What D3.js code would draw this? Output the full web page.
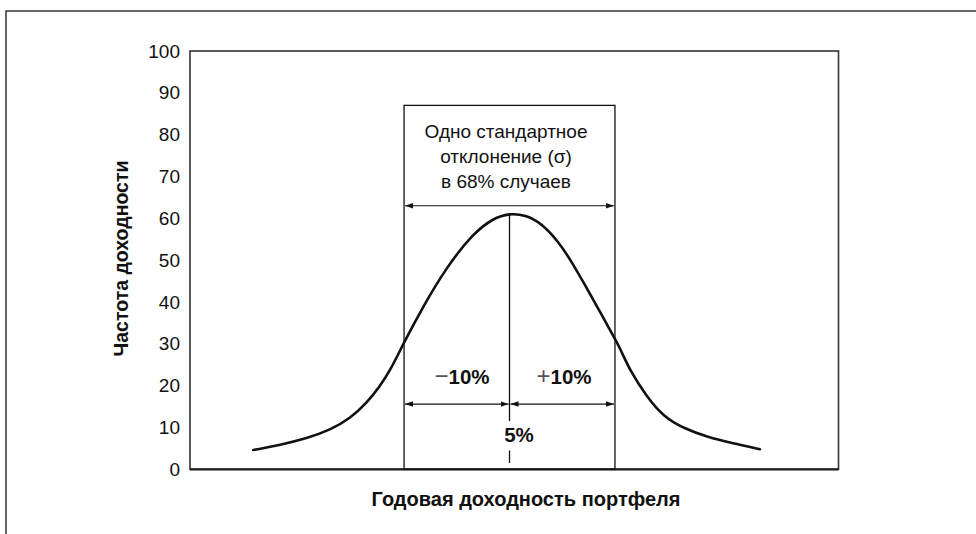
<!DOCTYPE html>
<html><head><meta charset="utf-8">
<script src="https://cdn.jsdelivr.net/npm/d3@7"></script>
<style>
html,body{margin:0;padding:0;background:#fff;}
svg text{font-family:"Liberation Sans",Arial,Helvetica,sans-serif;fill:#111;}
</style></head>
<body>
<script>
// ---- data ----
const yTicks = [0,10,20,30,40,50,60,70,80,90,100];
const curveX = [-19.3,-16.75,-14.2,-12.0,-10.1,-8.55,-7.3,-6.3,-5.05,-3.2,-0.95,1.55,3.45,5.0,6.5,8.05,9.65,10.9,12.15,13.4,14.7,15.5,16.4,18.0,19.6,21.5,23.7,26.2,28.75];
const curveY = [4.6,5.8,7.4,9.4,12.2,15.8,19.8,23.7,30.1,38.9,48.4,56.4,60.0,61.2,60.8,58.8,54.4,49.6,44.1,38.5,32.5,28.9,23.7,17.4,12.6,9.8,7.8,6.2,4.8];
const meanReturn = 5;
const sigma = 10;
const boxTop = 87;
const topArrowLevel = 63;
const bottomArrowLevel = 15.6;
const noteLines = ["Одно стандартное","отклонение (σ)","в 68% случаев"];
const yTitle = "Частота доходности";
const xTitle = "Годовая доходность портфеля";

// ---- layout ----
const W = 976, H = 534;
const svg = d3.select("body").append("svg").attr("width",W).attr("height",H);
const L = 190, R = 838.5, T = 51, B = 469.3;
const x = d3.scaleLinear().domain([-25.3,36.2]).range([L,R]);
const y = d3.scaleLinear().domain([0,100]).range([B,T]);

// outer frame (top & left)
svg.append("path").attr("d",`M6,534 L6,11 L976,11`).attr("fill","none").attr("stroke","#333").attr("stroke-width",1.5);

// plot frame
svg.append("rect").attr("x",L).attr("y",T).attr("width",R-L).attr("height",B-T)
  .attr("fill","none").attr("stroke","#333").attr("stroke-width",1.6);
svg.append("line").attr("x1",L).attr("x2",R).attr("y1",B).attr("y2",B).attr("stroke","#222").attr("stroke-width",2.2);

// y axis labels
const yAxis = d3.axisLeft(y).tickValues(yTicks).tickSize(0).tickPadding(10);
const gy = svg.append("g").attr("transform",`translate(${L},0)`).call(yAxis);
gy.select(".domain").remove();
gy.selectAll("text").attr("font-size",19).attr("fill","#111")
  .attr("font-family",'"Liberation Sans",Arial,sans-serif');

// titles
svg.append("text").attr("transform",`translate(128,258.5) rotate(-90)`).attr("text-anchor","middle")
  .attr("font-size",19.5).attr("font-weight","bold").text(yTitle);
svg.append("text").attr("x",526).attr("y",506).attr("text-anchor","middle")
  .attr("font-size",20).attr("font-weight","bold").text(xTitle);

// sigma box
const bx0 = x(meanReturn - sigma), bx1 = x(meanReturn + sigma), cx = x(meanReturn);
svg.append("rect").attr("x",bx0).attr("y",y(boxTop)).attr("width",bx1-bx0).attr("height",y(0)-y(boxTop))
  .attr("fill","none").attr("stroke","#111").attr("stroke-width",1.3);

// curve
const pts = curveX.map((d,i)=>[d,curveY[i]]);
svg.append("path").datum(pts)
  .attr("d", d3.line().x(d=>x(d[0])).y(d=>y(d[1])).curve(d3.curveBasis))
  .attr("fill","none").attr("stroke","#111").attr("stroke-width",2.6).attr("stroke-linecap","round");

// center line
const peak = d3.max(curveY);
svg.append("line").attr("x1",cx).attr("x2",cx).attr("y1",y(peak)).attr("y2",y(11.5)).attr("stroke","#111").attr("stroke-width",1.3);
svg.append("line").attr("x1",cx).attr("x2",cx).attr("y1",y(4.5)).attr("y2",y(1.5)).attr("stroke","#111").attr("stroke-width",1.3);

// arrow markers
const defs = svg.append("defs");
defs.append("marker").attr("id","ah").attr("viewBox","0 0 10 10").attr("refX",10).attr("refY",5)
  .attr("markerWidth",8).attr("markerHeight",8).attr("markerUnits","userSpaceOnUse").attr("orient","auto-start-reverse")
  .append("path").attr("d","M0,1.5 L10,5 L0,8.5 Z").attr("fill","#111");
function arrow(xa,xb,yy){
  svg.append("line").attr("x1",xa).attr("x2",xb).attr("y1",yy).attr("y2",yy)
    .attr("stroke","#111").attr("stroke-width",1.2)
    .attr("marker-start","url(#ah)").attr("marker-end","url(#ah)");
}
arrow(bx0+1,bx1-1,y(topArrowLevel));
arrow(bx0+1,cx-1,y(bottomArrowLevel));
arrow(cx+1,bx1-1,y(bottomArrowLevel));

// note text
noteLines.forEach((t,i)=>{
  svg.append("text").attr("x",506).attr("y",137.5+i*25.4).attr("text-anchor","middle")
    .attr("font-size",19).text(t);
});

// -10% / +10%
function pm(cxText, sign, num){
  const t = svg.append("text").attr("x",cxText).attr("y",384.3).attr("text-anchor","middle").attr("font-size",20.5);
  t.append("tspan").attr("font-weight","normal").attr("fill","#555").attr("font-size",24).text(sign);
  t.append("tspan").attr("font-weight","bold").text(num);
}
pm(462,"−","10%");
pm(564,"+","10%");
svg.append("text").attr("x",519).attr("y",442).attr("text-anchor","middle").attr("font-size",20.5)
  .attr("font-weight","bold").text(meanReturn+"%");
</script>
</body></html>
